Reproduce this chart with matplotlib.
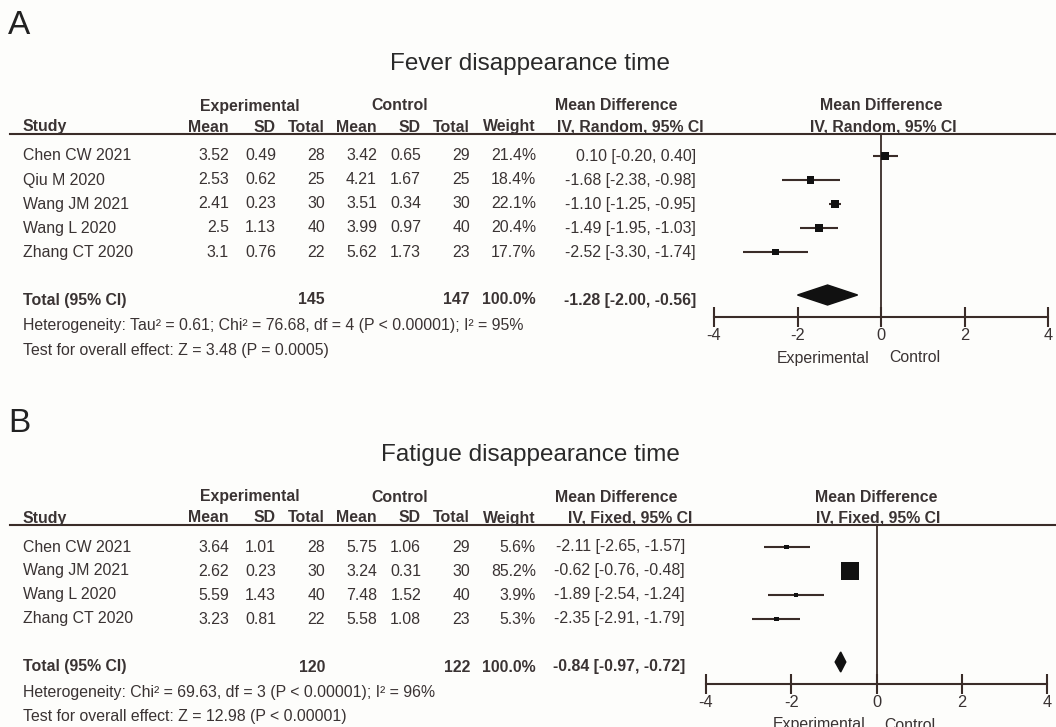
import matplotlib.pyplot as plt
from matplotlib.patches import Polygon
from matplotlib.lines import Line2D
import numpy as np

plt.rcParams['font.family'] = ['Liberation Sans', 'DejaVu Sans']
plt.rcParams['axes.unicode_minus'] = False

# ---- data: panel A (fever) ----
studies_a = ["Chen CW 2021", "Qiu M 2020", "Wang JM 2021", "Wang L 2020", "Zhang CT 2020"]
exp_mean_a = [3.52, 2.53, 2.41, 2.5, 3.1]
exp_sd_a = [0.49, 0.62, 0.23, 1.13, 0.76]
exp_n_a = [28, 25, 30, 40, 22]
ctl_mean_a = [3.42, 4.21, 3.51, 3.99, 5.62]
ctl_sd_a = [0.65, 1.67, 0.34, 0.97, 1.73]
ctl_n_a = [29, 25, 30, 40, 23]
weight_a = [21.4, 18.4, 22.1, 20.4, 17.7]
md_a = [0.10, -1.68, -1.10, -1.49, -2.52]
lo_a = [-0.20, -2.38, -1.25, -1.95, -3.30]
hi_a = [0.40, -0.98, -0.95, -1.03, -1.74]
total_a = [145, 147]
pooled_a = [-1.28, -2.00, -0.56]
het_a = "Heterogeneity: Tau² = 0.61; Chi² = 76.68, df = 4 (P < 0.00001); I² = 95%"
test_a = "Test for overall effect: Z = 3.48 (P = 0.0005)"

# ---- data: panel B (fatigue) ----
studies_b = ["Chen CW 2021", "Wang JM 2021", "Wang L 2020", "Zhang CT 2020"]
exp_mean_b = [3.64, 2.62, 5.59, 3.23]
exp_sd_b = [1.01, 0.23, 1.43, 0.81]
exp_n_b = [28, 30, 40, 22]
ctl_mean_b = [5.75, 3.24, 7.48, 5.58]
ctl_sd_b = [1.06, 0.31, 1.52, 1.08]
ctl_n_b = [29, 30, 40, 23]
weight_b = [5.6, 85.2, 3.9, 5.3]
md_b = [-2.11, -0.62, -1.89, -2.35]
lo_b = [-2.65, -0.76, -2.54, -2.91]
hi_b = [-1.57, -0.48, -1.24, -1.79]
total_b = [120, 122]
pooled_b = [-0.84, -0.97, -0.72]
het_b = "Heterogeneity: Chi² = 69.63, df = 3 (P < 0.00001); I² = 96%"
test_b = "Test for overall effect: Z = 12.98 (P < 0.00001)"

ticks = [-4, -2, 0, 2, 4]

W, H = 1056, 727
TXT = '#3a3333'
LINE = '#3a2c28'
FS = 11.4

fig = plt.figure(figsize=(W / 100, H / 100), dpi=100)
fig.patch.set_facecolor('#fdfdfb')


def put(x, y, s, ha='left', bold=False, size=FS, color=TXT):
    fig.text(x / W, 1 - y / H, s, ha=ha, va='center', fontsize=size,
             fontweight='bold' if bold else 'normal', color=color)


def fmt_ci(m, lo, hi):
    return f"{m:.2f} [{lo:.2f}, {hi:.2f}]"


def panel(letter, letter_y, title, method, y0, studies, em, es, en, cm, cs, cn, w, md, lo, hi,
          totals, pooled, het, test, md_right, fx_left, fx_right, box_k):
    cols = [229, 276, 325, 377, 421, 470, 536]
    n = len(studies)
    rows = [y0 + 24 * i for i in range(n)]
    y_tot = y0 + 24 * (n - 1) + 48
    y_line = y0 - 22
    y_axis = y_tot + 17
    zero_px = fx_left + (fx_right - fx_left) / 2

    put(8, letter_y, letter, size=24, color='#222222')
    put(530, y0 - 92, title, ha='center', size=17.5, color='#2a2a2a')

    # column headers
    put(250, y0 - 50, "Experimental", ha='center', bold=True)
    put(400, y0 - 50, "Control", ha='center', bold=True)
    put(616, y0 - 50, "Mean Difference", ha='center', bold=True)
    put(zero_px, y0 - 50, "Mean Difference", ha='center', bold=True)
    put(23, y0 - 29, "Study", bold=True)
    for x, h in zip(cols, ["Mean", "SD", "Total", "Mean", "SD", "Total", "Weight"]):
        put(x, y0 - 29, h, ha='right', bold=True)
    put(630, y0 - 29, f"IV, {method}, 95% CI", ha='center', bold=True)
    put(zero_px + 2, y0 - 29, f"IV, {method}, 95% CI", ha='center', bold=True)
    fig.add_artist(Line2D([10 / W, 1], [1 - y_line / H] * 2, color=LINE, lw=1.5))

    # study rows
    for i in range(n):
        y = rows[i]
        put(23, y, studies[i])
        vals = [f"{em[i]:g}", f"{es[i]:g}", str(en[i]), f"{cm[i]:g}", f"{cs[i]:g}",
                str(cn[i]), f"{w[i]:.1f}%"]
        for x, v in zip(cols, vals):
            put(x, y, v, ha='right')
        put(md_right, y, fmt_ci(md[i], lo[i], hi[i]), ha='right')

    put(23, y_tot, "Total (95% CI)", bold=True)
    put(cols[2], y_tot, str(totals[0]), ha='right', bold=True)
    put(cols[5], y_tot, str(totals[1]), ha='right', bold=True)
    put(cols[6], y_tot, f"{sum(w):.1f}%", ha='right', bold=True)
    put(md_right, y_tot, fmt_ci(*pooled), ha='right', bold=True)
    put(23, y_tot + 26, het)
    put(23, y_tot + 50, test)

    # forest plot
    ax = fig.add_axes([fx_left / W, 1 - y_axis / H, (fx_right - fx_left) / W, (y_axis - y_line) / H])
    ax.set_xlim(ticks[0], ticks[-1])
    ax.set_ylim(y_axis, y_line)
    ax.patch.set_alpha(0)
    for s in ['top', 'left', 'right']:
        ax.spines[s].set_visible(False)
    ax.spines['bottom'].set_color(LINE)
    ax.spines['bottom'].set_linewidth(1.5)
    ax.set_yticks([])
    ax.set_xticks(ticks)
    ax.set_xticklabels([str(t) for t in ticks])
    ax.tick_params(axis='x', direction='inout', length=14, width=1.5, color=LINE,
                   labelsize=11.8, labelcolor=TXT, pad=1)
    ax.axvline(0, color=LINE, lw=1.3)
    ax.hlines(rows, lo, hi, color=LINE, lw=1.5, clip_on=False)
    sizes = [(box_k * np.sqrt(v) * 0.72) ** 2 for v in w]
    ax.scatter(md, rows, marker='s', s=sizes, color='#111111', zorder=3, clip_on=False, linewidths=0)
    m, l, h = pooled
    ax.add_patch(Polygon([(l, y_tot - 5), (m, y_tot - 15), (h, y_tot - 5), (m, y_tot + 5)],
                         closed=True, color='#111111', zorder=3))
    put(zero_px - 11, y_axis + 41, "Experimental", ha='right')
    put(zero_px + 8, y_axis + 41, "Control")


panel("A", 25, "Fever disappearance time", "Random", 156, studies_a, exp_mean_a, exp_sd_a, exp_n_a,
      ctl_mean_a, ctl_sd_a, ctl_n_a, weight_a, md_a, lo_a, hi_a, total_a, pooled_a,
      het_a, test_a, 696, 714, 1048, 1.65)
panel("B", 424, "Fatigue disappearance time", "Fixed", 547, studies_b, exp_mean_b, exp_sd_b, exp_n_b,
      ctl_mean_b, ctl_sd_b, ctl_n_b, weight_b, md_b, lo_b, hi_b, total_b, pooled_b,
      het_b, test_b, 685, 706, 1047, 2.0)

plt.savefig('out.png', dpi=100, facecolor=fig.get_facecolor())
